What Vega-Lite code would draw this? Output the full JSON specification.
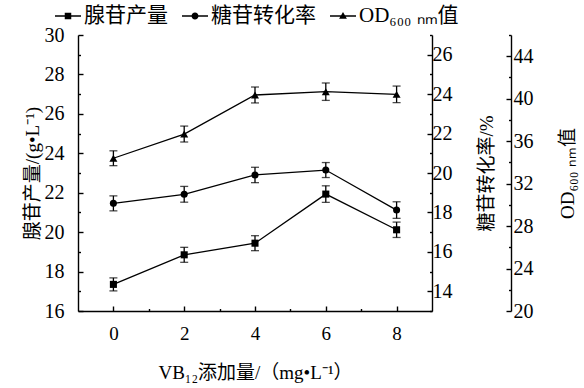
{
  "$schema": "https://vega.github.io/schema/vega-lite/v6.json",
  "width": 354,
  "height": 276,
  "autosize": {"type": "none"},
  "padding": {"left": 78, "top": 35, "right": 152, "bottom": 77},
  "background": "white",
  "config": {
    "view": {"stroke": null},
    "font": "Liberation Serif, Noto Sans CJK SC",
    "axis": {
      "domainColor": "black", "domainWidth": 1.4,
      "tickColor": "black", "tickWidth": 1.4,
      "labelColor": "black", "titleColor": "black",
      "labelFont": "Liberation Serif, Noto Sans CJK SC",
      "titleFont": "Liberation Serif, Noto Sans CJK SC",
      "labelFontSize": 20, "titleFontSize": 19, "titleFontWeight": "normal",
      "grid": false
    }
  },
  "data": {
    "values": [
      {"x": 0, "series": "腺苷产量", "v": 17.35, "e": 0.33},
      {"x": 2, "series": "腺苷产量", "v": 18.85, "e": 0.38},
      {"x": 4, "series": "腺苷产量", "v": 19.44, "e": 0.38},
      {"x": 6, "series": "腺苷产量", "v": 21.93, "e": 0.42},
      {"x": 8, "series": "腺苷产量", "v": 20.12, "e": 0.39},
      {"x": 0, "series": "糖苷转化率", "v": 18.46, "e": 0.38},
      {"x": 2, "series": "糖苷转化率", "v": 18.92, "e": 0.4},
      {"x": 4, "series": "糖苷转化率", "v": 19.9, "e": 0.39},
      {"x": 6, "series": "糖苷转化率", "v": 20.15, "e": 0.38},
      {"x": 8, "series": "糖苷转化率", "v": 18.12, "e": 0.42},
      {"x": 0, "series": "OD600", "v": 34.39, "e": 0.7},
      {"x": 2, "series": "OD600", "v": 36.67, "e": 0.75},
      {"x": 4, "series": "OD600", "v": 40.35, "e": 0.75},
      {"x": 6, "series": "OD600", "v": 40.66, "e": 0.82},
      {"x": 8, "series": "OD600", "v": 40.41, "e": 0.78}
    ]
  },
  "encoding": {
    "x": {
      "field": "x", "type": "quantitative",
      "scale": {"domain": [-1, 9], "nice": false, "zero": false},
      "axis": {
        "values": [0, 1, 2, 3, 4, 5, 6, 7, 8],
        "labelExpr": "datum.value % 2 ? '' : datum.label",
        "tickSize": {"condition": {"test": "datum.value % 2 === 0", "value": -5}, "value": -2.5},
        "labelFontSize": 19,
        "labelPadding": 18,
        "title": "VB₁₂添加量/（mg•L⁻¹）",
        "titlePadding": 20
      }
    }
  },
  "layer": [
    {
      "transform": [{"filter": "datum.series === '腺苷产量'"}],
      "encoding": {
        "y": {
          "field": "v", "type": "quantitative",
          "scale": {"domain": [16, 30], "nice": false, "zero": false},
          "axis": {
            "orient": "left",
            "values": [16, 17, 18, 19, 20, 21, 22, 23, 24, 25, 26, 27, 28, 29, 30],
            "labelExpr": "datum.value % 2 ? '' : datum.label",
            "tickSize": {"condition": {"test": "datum.value % 2 === 0", "value": -5}, "value": -2.5},
            "labelPadding": 19,
            "title": "腺苷产量/(g•L⁻¹)",
            "titlePadding": 2
          }
        }
      },
      "layer": [
        {"mark": {"type": "line", "color": "black", "strokeWidth": 1.3}},
        {"mark": {"type": "errorbar", "color": "black", "thickness": 1.3, "ticks": {"size": 8, "thickness": 1.3}}, "encoding": {"yError": {"field": "e"}}},
        {"mark": {"type": "point", "shape": "square", "filled": true, "color": "black", "opacity": 1, "size": 50}}
      ]
    },
    {
      "transform": [{"filter": "datum.series === '糖苷转化率'"}],
      "encoding": {
        "y": {
          "field": "v", "type": "quantitative",
          "scale": {"domain": [13, 27], "nice": false, "zero": false},
          "axis": {
            "orient": "right",
            "values": [13, 14, 15, 16, 17, 18, 19, 20, 21, 22, 23, 24, 25, 26, 27],
            "labelExpr": "datum.value % 2 ? '' : datum.label",
            "tickSize": {"condition": {"test": "datum.value % 2 === 0", "value": -5}, "value": -2.5},
            "labelPadding": 5,
            "title": "糖苷转化率/%",
            "titleAngle": 270,
            "titlePadding": 44
          }
        }
      },
      "layer": [
        {"mark": {"type": "line", "color": "black", "strokeWidth": 1.3}},
        {"mark": {"type": "errorbar", "color": "black", "thickness": 1.3, "ticks": {"size": 8, "thickness": 1.3}}, "encoding": {"yError": {"field": "e"}}},
        {"mark": {"type": "point", "shape": "circle", "filled": true, "color": "black", "opacity": 1, "size": 50}}
      ]
    },
    {
      "transform": [{"filter": "datum.series === 'OD600'"}],
      "encoding": {
        "y": {
          "field": "v", "type": "quantitative",
          "scale": {"domain": [20, 46], "nice": false, "zero": false},
          "axis": {
            "orient": "right",
            "offset": 79,
            "values": [20, 22, 24, 26, 28, 30, 32, 34, 36, 38, 40, 42, 44, 46],
            "labelExpr": "datum.value % 4 ? '' : datum.label",
            "tickSize": {"condition": {"test": "datum.value % 4 === 0", "value": -5}, "value": -2.5},
            "labelPadding": 7,
            "title": "OD₆₀₀ ₙₘ值",
            "titleAngle": 270,
            "titlePadding": 44
          }
        }
      },
      "layer": [
        {"mark": {"type": "line", "color": "black", "strokeWidth": 1.3}},
        {"mark": {"type": "errorbar", "color": "black", "thickness": 1.3, "ticks": {"size": 8, "thickness": 1.3}}, "encoding": {"yError": {"field": "e"}}},
        {"mark": {"type": "point", "shape": "triangle-up", "filled": true, "color": "black", "opacity": 1, "size": 64}}
      ]
    },
    {
      "transform": [{"filter": "false"}],
      "mark": {"type": "point", "filled": true, "color": "black", "opacity": 1},
      "encoding": {
        "shape": {
          "field": "series", "type": "nominal",
          "scale": {
            "domain": ["腺苷产量", "糖苷转化率", "OD₆₀₀ ₙₘ值"],
            "range": [
              "M-1,-0.05H1V0.05H-1ZM-0.25,-0.25H0.25V0.25H-0.25Z",
              "M-1,-0.05H1V0.05H-1ZM0.27,0A0.27,0.27,0,1,1,-0.27,0A0.27,0.27,0,1,1,0.27,0Z",
              "M-1,-0.05H1V0.05H-1ZM0,-0.3L0.3,0.22L-0.3,0.22Z"
            ]
          },
          "legend": {
            "orient": "none",
            "legendX": -23,
            "legendY": -32,
            "direction": "horizontal",
            "title": null,
            "symbolSize": 676,
            "symbolFillColor": "black",
            "symbolStrokeColor": "black",
            "symbolStrokeWidth": 0,
            "symbolOpacity": 1,
            "labelFont": "Liberation Serif, Noto Sans CJK SC",
            "labelFontSize": 21,
            "labelColor": "black",
            "labelOffset": 3,
            "columnPadding": 14
          }
        }
      }
    }
  ],
  "resolve": {"scale": {"y": "independent"}}
}
